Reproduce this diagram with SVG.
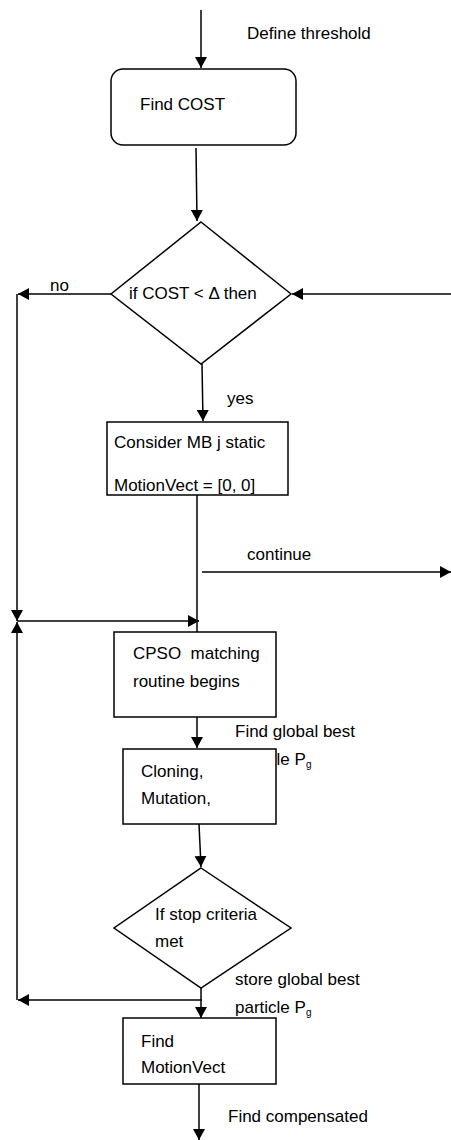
<svg xmlns="http://www.w3.org/2000/svg" width="451" height="1140" viewBox="0 0 451 1140">
<style>
.s{fill:#fff;stroke:#000;stroke-width:1.5}
.c{fill:none;stroke:#000;stroke-width:1.5}
.a{marker-end:url(#ah)}
text{font-family:"Liberation Sans",Arial,sans-serif;font-size:17px;fill:#000}
</style>
<defs>
<marker id="ah" markerUnits="userSpaceOnUse" markerWidth="12" markerHeight="12" refX="11" refY="6" orient="auto" viewBox="0 0 12 12">
<path d="M0,0 L11,6 L0,12 z" fill="#000"/>
</marker>
</defs>
<rect width="451" height="1140" fill="#fff"/>
<g id="connectors">
<line class="c a" x1="201" y1="10" x2="201" y2="68"/>
<line class="c a" x1="196" y1="148" x2="197" y2="221"/>
<line class="c a" x1="451" y1="294" x2="292" y2="294"/>
<line class="c a" x1="111" y1="294" x2="18" y2="294"/>
<line class="c a" x1="17" y1="294" x2="17" y2="621"/>
<line class="c a" x1="17" y1="1000" x2="17" y2="622"/>
<line class="c a" x1="202" y1="364" x2="203" y2="421"/>
<line class="c" x1="197" y1="495" x2="197" y2="632"/>
<line class="c a" x1="202" y1="572" x2="451" y2="572"/>
<line class="c a" x1="17" y1="621" x2="199" y2="621"/>
<line class="c a" x1="197" y1="717" x2="197" y2="748"/>
<line class="c a" x1="199" y1="824" x2="201" y2="867"/>
<line class="c" x1="201" y1="988" x2="201" y2="1000"/>
<line class="c a" x1="202" y1="1000" x2="18" y2="1000"/>
<line class="c a" x1="201" y1="1000" x2="201" y2="1018"/>
<line class="c a" x1="199" y1="1084" x2="199" y2="1140"/>
</g>
<g id="labels">
<text x="247" y="39">Define threshold</text>
<text x="50" y="291">no</text>
<text x="227" y="404">yes</text>
<text x="247" y="560">continue</text>
<text x="235" y="737">Find global best</text>
<text x="235" y="765">particle P<tspan font-size="10" dy="3">g</tspan></text>
<text x="235" y="985">store global best</text>
<text x="235" y="1013">particle P<tspan font-size="10" dy="3">g</tspan></text>
<text x="228" y="1122">Find compensated</text>
</g>
<g id="n_findcost">
<rect class="s" x="111" y="69" width="185" height="76" rx="12" ry="12"/>
<text x="140" y="110">Find COST</text>
</g>
<g id="n_ifcost">
<polygon class="s" points="201,222 291,294 201,364 111,294"/>
<text x="129" y="299">if COST &lt; Δ then</text>
</g>
<g id="n_static">
<rect class="s" x="107" y="422" width="181" height="73"/>
<text x="114" y="448">Consider MB j static</text>
<text x="114" y="491">MotionVect = [0, 0]</text>
</g>
<g id="n_cpso">
<rect class="s" x="114" y="632" width="162" height="85"/>
<text x="133" y="659" xml:space="preserve">CPSO  matching</text>
<text x="133" y="687">routine begins</text>
</g>
<g id="n_cloning">
<rect class="s" x="123" y="749" width="153" height="75"/>
<text x="141" y="777">Cloning,</text>
<text x="141" y="804">Mutation,</text>
</g>
<g id="n_stop">
<polygon class="s" points="201,868 291,928 201,988 114,928"/>
<text x="155" y="920">If stop criteria</text>
<text x="155" y="947">met</text>
</g>
<g id="n_motion">
<rect class="s" x="123" y="1018" width="153" height="66"/>
<text x="141" y="1047">Find</text>
<text x="141" y="1073">MotionVect</text>
</g>
</svg>
